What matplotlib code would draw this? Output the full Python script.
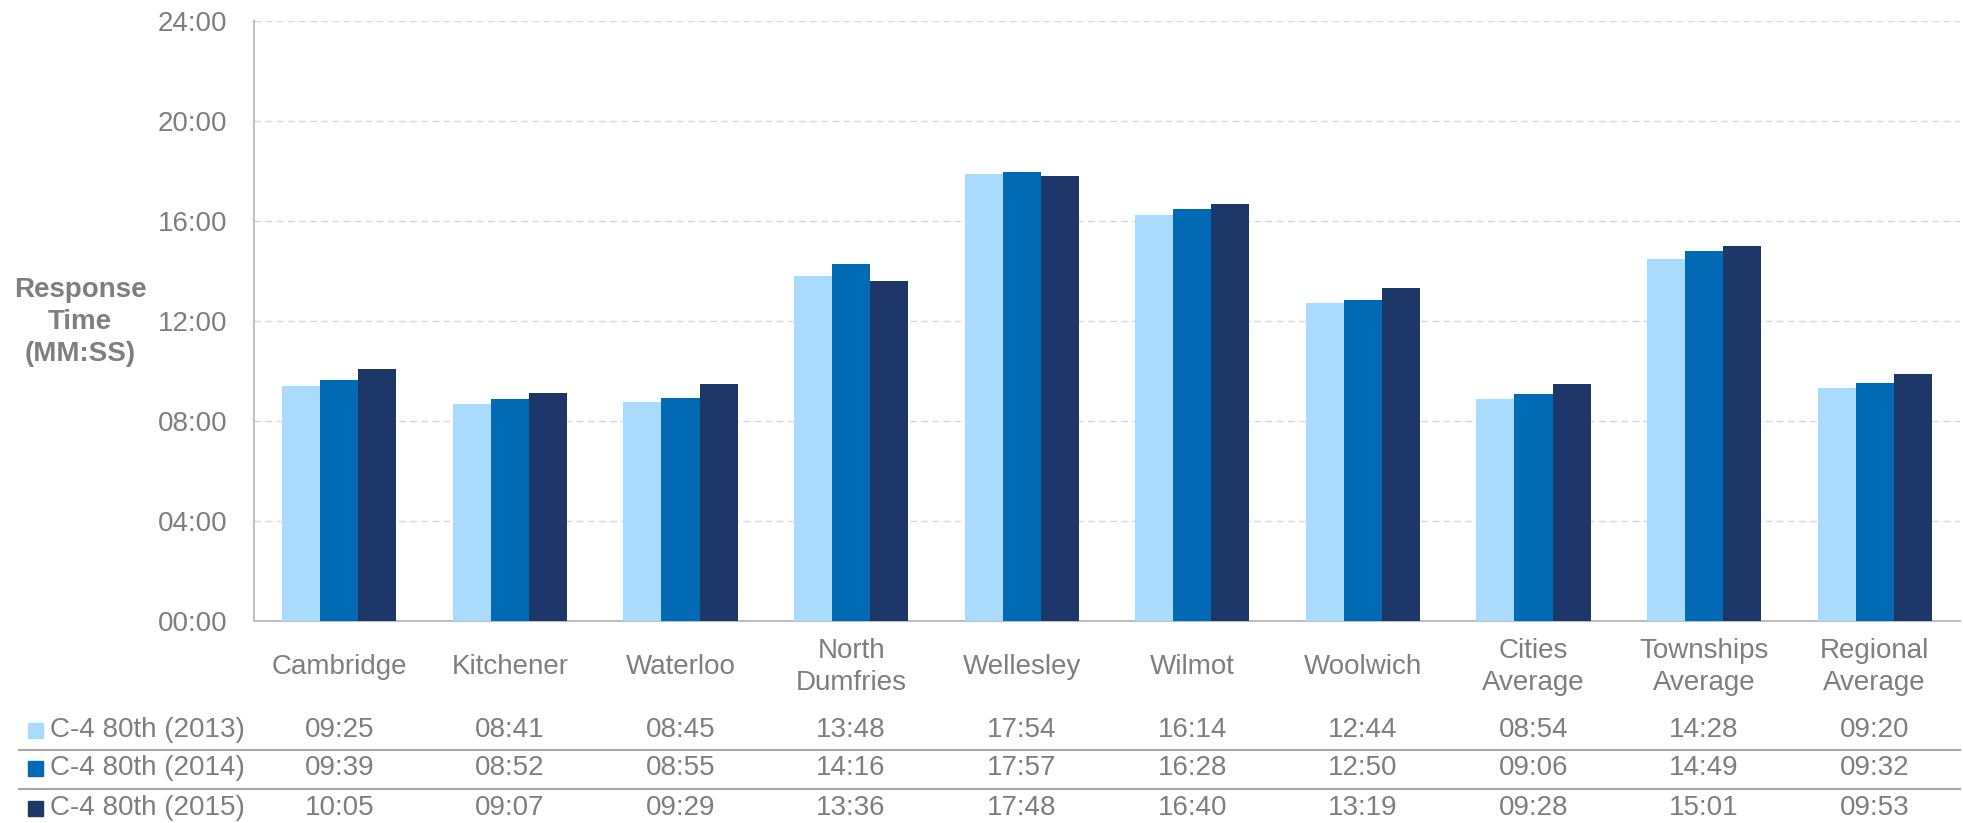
import matplotlib
matplotlib.use("Agg")
import numpy as np
import matplotlib.pyplot as plt
from matplotlib.patches import Rectangle
from matplotlib.lines import Line2D
from matplotlib.ticker import FuncFormatter, MultipleLocator
import matplotlib.transforms as mtransforms

plt.rcParams['font.family'] = ['Liberation Sans', 'DejaVu Sans']

categories = ["Cambridge", "Kitchener", "Waterloo", "North\nDumfries", "Wellesley",
              "Wilmot", "Woolwich", "Cities\nAverage", "Townships\nAverage", "Regional\nAverage"]
series_names = ["C-4 80th (2013)", "C-4 80th (2014)", "C-4 80th (2015)"]
times_2013 = ["09:25", "08:41", "08:45", "13:48", "17:54", "16:14", "12:44", "08:54", "14:28", "09:20"]
times_2014 = ["09:39", "08:52", "08:55", "14:16", "17:57", "16:28", "12:50", "09:06", "14:49", "09:32"]
times_2015 = ["10:05", "09:07", "09:29", "13:36", "17:48", "16:40", "13:19", "09:28", "15:01", "09:53"]
colors = ["#A9DBFE", "#006AB5", "#1D3769"]

GRAY = "#7F7F7F"
W, H = 1963, 823


def to_sec(s):
    m, sec = s.split(":")
    return int(m) * 60 + int(sec)


all_times = [times_2013, times_2014, times_2015]

fig = plt.figure(figsize=(W / 100, H / 100), dpi=100)
ax = fig.add_axes([254 / W, 1 - 621 / H, (1960 - 254) / W, 600 / H])

x = np.arange(len(categories))
bw = 0.223
for i, (vals, c) in enumerate(zip(all_times, colors)):
    secs = [to_sec(v) for v in vals]
    ax.bar(x + (i - 1) * bw, secs, bw, color=c, zorder=3)

ax.set_xlim(-0.5, len(categories) - 0.5)
ax.set_ylim(0, 24 * 60)
ax.yaxis.set_major_locator(MultipleLocator(240))
ax.yaxis.set_major_formatter(FuncFormatter(lambda v, p: "%02d:%02d" % (int(v) // 60, int(v) % 60)))
ax.tick_params(axis='y', length=0, pad=19, labelsize=20, labelcolor=GRAY)
ax.set_xticks([])
ax.grid(axis='y', color='#D9D9D9', linestyle=(0, (5, 3)), linewidth=1.0, zorder=0)

for s in ['top', 'right']:
    ax.spines[s].set_visible(False)
for s in ['left', 'bottom']:
    ax.spines[s].set_color('#BFBFBF')
    ax.spines[s].set_linewidth(1.5)

fig.text(80 / W, 1 - 322 / H, "Response\nTime\n(MM:SS)", ha='center', va='center',
         fontsize=20, fontweight='bold', color=GRAY, linespacing=1.28)

# category labels and data table
trans = mtransforms.blended_transform_factory(ax.transData, fig.transFigure)
for xi, cat in zip(x, categories):
    ax.text(xi, 1 - 667 / H, cat, transform=trans, ha='center', va='center',
            fontsize=20, color=GRAY, linespacing=1.32)

row_y = [730, 768, 808]
for r, (name, vals, c) in enumerate(zip(series_names, all_times, colors)):
    yf = 1 - row_y[r] / H
    fig.add_artist(Rectangle((28 / W, yf - 7.5 / H), 15 / W, 15 / H,
                             transform=fig.transFigure, color=c))
    fig.text(50 / W, yf, name, ha='left', va='center', fontsize=20, color=GRAY)
    for xi, v in zip(x, vals):
        ax.text(xi, yf, v, transform=trans, ha='center', va='center', fontsize=20, color=GRAY)

for ly in [750, 789]:
    fig.add_artist(Line2D([19 / W, 1960 / W], [1 - ly / H, 1 - ly / H],
                          transform=fig.transFigure, color='#A6A6A6', linewidth=1.5))

fig.savefig("out.png", dpi=100)
